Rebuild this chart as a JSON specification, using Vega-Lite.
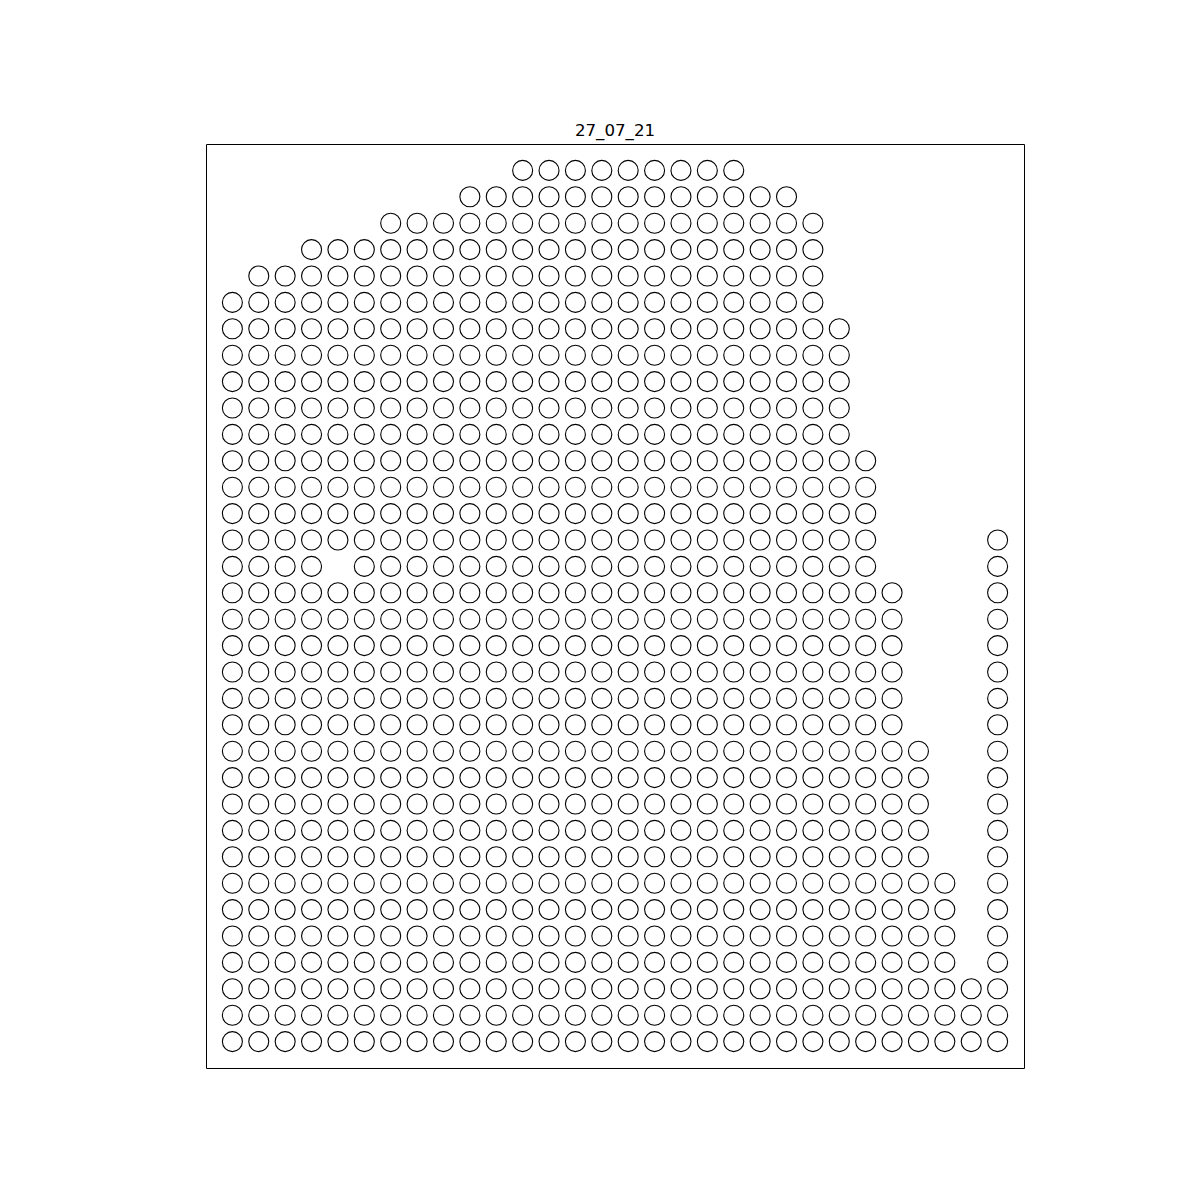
{
"$schema": "https://vega.github.io/schema/vega-lite/v6.json",
"width": 818,
"height": 924,
"autosize": {"type": "none"},
"padding": {"left": 206, "top": 144, "right": 176, "bottom": 132},
"background": "white",
"config": {"view": {"stroke": "black", "strokeWidth": 1, "fill": "white"}},
"title": {"text": "27_07_21", "font": "DejaVu Sans", "fontSize": 16.67, "fontWeight": "normal", "color": "black", "anchor": "middle", "baseline": "alphabetic", "offset": -9},
"data": {"values": [
{"col":11,"row":0},{"col":12,"row":0},{"col":13,"row":0},{"col":14,"row":0},{"col":15,"row":0},{"col":16,"row":0},{"col":17,"row":0},{"col":18,"row":0},{"col":19,"row":0},
{"col":9,"row":1},{"col":10,"row":1},{"col":11,"row":1},{"col":12,"row":1},{"col":13,"row":1},{"col":14,"row":1},{"col":15,"row":1},{"col":16,"row":1},{"col":17,"row":1},{"col":18,"row":1},{"col":19,"row":1},{"col":20,"row":1},{"col":21,"row":1},
{"col":6,"row":2},{"col":7,"row":2},{"col":8,"row":2},{"col":9,"row":2},{"col":10,"row":2},{"col":11,"row":2},{"col":12,"row":2},{"col":13,"row":2},{"col":14,"row":2},{"col":15,"row":2},{"col":16,"row":2},{"col":17,"row":2},{"col":18,"row":2},{"col":19,"row":2},{"col":20,"row":2},{"col":21,"row":2},{"col":22,"row":2},
{"col":3,"row":3},{"col":4,"row":3},{"col":5,"row":3},{"col":6,"row":3},{"col":7,"row":3},{"col":8,"row":3},{"col":9,"row":3},{"col":10,"row":3},{"col":11,"row":3},{"col":12,"row":3},{"col":13,"row":3},{"col":14,"row":3},{"col":15,"row":3},{"col":16,"row":3},{"col":17,"row":3},{"col":18,"row":3},{"col":19,"row":3},{"col":20,"row":3},{"col":21,"row":3},{"col":22,"row":3},
{"col":1,"row":4},{"col":2,"row":4},{"col":3,"row":4},{"col":4,"row":4},{"col":5,"row":4},{"col":6,"row":4},{"col":7,"row":4},{"col":8,"row":4},{"col":9,"row":4},{"col":10,"row":4},{"col":11,"row":4},{"col":12,"row":4},{"col":13,"row":4},{"col":14,"row":4},{"col":15,"row":4},{"col":16,"row":4},{"col":17,"row":4},{"col":18,"row":4},{"col":19,"row":4},{"col":20,"row":4},{"col":21,"row":4},{"col":22,"row":4},
{"col":0,"row":5},{"col":1,"row":5},{"col":2,"row":5},{"col":3,"row":5},{"col":4,"row":5},{"col":5,"row":5},{"col":6,"row":5},{"col":7,"row":5},{"col":8,"row":5},{"col":9,"row":5},{"col":10,"row":5},{"col":11,"row":5},{"col":12,"row":5},{"col":13,"row":5},{"col":14,"row":5},{"col":15,"row":5},{"col":16,"row":5},{"col":17,"row":5},{"col":18,"row":5},{"col":19,"row":5},{"col":20,"row":5},{"col":21,"row":5},{"col":22,"row":5},
{"col":0,"row":6},{"col":1,"row":6},{"col":2,"row":6},{"col":3,"row":6},{"col":4,"row":6},{"col":5,"row":6},{"col":6,"row":6},{"col":7,"row":6},{"col":8,"row":6},{"col":9,"row":6},{"col":10,"row":6},{"col":11,"row":6},{"col":12,"row":6},{"col":13,"row":6},{"col":14,"row":6},{"col":15,"row":6},{"col":16,"row":6},{"col":17,"row":6},{"col":18,"row":6},{"col":19,"row":6},{"col":20,"row":6},{"col":21,"row":6},{"col":22,"row":6},{"col":23,"row":6},
{"col":0,"row":7},{"col":1,"row":7},{"col":2,"row":7},{"col":3,"row":7},{"col":4,"row":7},{"col":5,"row":7},{"col":6,"row":7},{"col":7,"row":7},{"col":8,"row":7},{"col":9,"row":7},{"col":10,"row":7},{"col":11,"row":7},{"col":12,"row":7},{"col":13,"row":7},{"col":14,"row":7},{"col":15,"row":7},{"col":16,"row":7},{"col":17,"row":7},{"col":18,"row":7},{"col":19,"row":7},{"col":20,"row":7},{"col":21,"row":7},{"col":22,"row":7},{"col":23,"row":7},
{"col":0,"row":8},{"col":1,"row":8},{"col":2,"row":8},{"col":3,"row":8},{"col":4,"row":8},{"col":5,"row":8},{"col":6,"row":8},{"col":7,"row":8},{"col":8,"row":8},{"col":9,"row":8},{"col":10,"row":8},{"col":11,"row":8},{"col":12,"row":8},{"col":13,"row":8},{"col":14,"row":8},{"col":15,"row":8},{"col":16,"row":8},{"col":17,"row":8},{"col":18,"row":8},{"col":19,"row":8},{"col":20,"row":8},{"col":21,"row":8},{"col":22,"row":8},{"col":23,"row":8},
{"col":0,"row":9},{"col":1,"row":9},{"col":2,"row":9},{"col":3,"row":9},{"col":4,"row":9},{"col":5,"row":9},{"col":6,"row":9},{"col":7,"row":9},{"col":8,"row":9},{"col":9,"row":9},{"col":10,"row":9},{"col":11,"row":9},{"col":12,"row":9},{"col":13,"row":9},{"col":14,"row":9},{"col":15,"row":9},{"col":16,"row":9},{"col":17,"row":9},{"col":18,"row":9},{"col":19,"row":9},{"col":20,"row":9},{"col":21,"row":9},{"col":22,"row":9},{"col":23,"row":9},
{"col":0,"row":10},{"col":1,"row":10},{"col":2,"row":10},{"col":3,"row":10},{"col":4,"row":10},{"col":5,"row":10},{"col":6,"row":10},{"col":7,"row":10},{"col":8,"row":10},{"col":9,"row":10},{"col":10,"row":10},{"col":11,"row":10},{"col":12,"row":10},{"col":13,"row":10},{"col":14,"row":10},{"col":15,"row":10},{"col":16,"row":10},{"col":17,"row":10},{"col":18,"row":10},{"col":19,"row":10},{"col":20,"row":10},{"col":21,"row":10},{"col":22,"row":10},{"col":23,"row":10},
{"col":0,"row":11},{"col":1,"row":11},{"col":2,"row":11},{"col":3,"row":11},{"col":4,"row":11},{"col":5,"row":11},{"col":6,"row":11},{"col":7,"row":11},{"col":8,"row":11},{"col":9,"row":11},{"col":10,"row":11},{"col":11,"row":11},{"col":12,"row":11},{"col":13,"row":11},{"col":14,"row":11},{"col":15,"row":11},{"col":16,"row":11},{"col":17,"row":11},{"col":18,"row":11},{"col":19,"row":11},{"col":20,"row":11},{"col":21,"row":11},{"col":22,"row":11},{"col":23,"row":11},{"col":24,"row":11},
{"col":0,"row":12},{"col":1,"row":12},{"col":2,"row":12},{"col":3,"row":12},{"col":4,"row":12},{"col":5,"row":12},{"col":6,"row":12},{"col":7,"row":12},{"col":8,"row":12},{"col":9,"row":12},{"col":10,"row":12},{"col":11,"row":12},{"col":12,"row":12},{"col":13,"row":12},{"col":14,"row":12},{"col":15,"row":12},{"col":16,"row":12},{"col":17,"row":12},{"col":18,"row":12},{"col":19,"row":12},{"col":20,"row":12},{"col":21,"row":12},{"col":22,"row":12},{"col":23,"row":12},{"col":24,"row":12},
{"col":0,"row":13},{"col":1,"row":13},{"col":2,"row":13},{"col":3,"row":13},{"col":4,"row":13},{"col":5,"row":13},{"col":6,"row":13},{"col":7,"row":13},{"col":8,"row":13},{"col":9,"row":13},{"col":10,"row":13},{"col":11,"row":13},{"col":12,"row":13},{"col":13,"row":13},{"col":14,"row":13},{"col":15,"row":13},{"col":16,"row":13},{"col":17,"row":13},{"col":18,"row":13},{"col":19,"row":13},{"col":20,"row":13},{"col":21,"row":13},{"col":22,"row":13},{"col":23,"row":13},{"col":24,"row":13},
{"col":0,"row":14},{"col":1,"row":14},{"col":2,"row":14},{"col":3,"row":14},{"col":4,"row":14},{"col":5,"row":14},{"col":6,"row":14},{"col":7,"row":14},{"col":8,"row":14},{"col":9,"row":14},{"col":10,"row":14},{"col":11,"row":14},{"col":12,"row":14},{"col":13,"row":14},{"col":14,"row":14},{"col":15,"row":14},{"col":16,"row":14},{"col":17,"row":14},{"col":18,"row":14},{"col":19,"row":14},{"col":20,"row":14},{"col":21,"row":14},{"col":22,"row":14},{"col":23,"row":14},{"col":24,"row":14},{"col":29,"row":14},
{"col":0,"row":15},{"col":1,"row":15},{"col":2,"row":15},{"col":3,"row":15},{"col":5,"row":15},{"col":6,"row":15},{"col":7,"row":15},{"col":8,"row":15},{"col":9,"row":15},{"col":10,"row":15},{"col":11,"row":15},{"col":12,"row":15},{"col":13,"row":15},{"col":14,"row":15},{"col":15,"row":15},{"col":16,"row":15},{"col":17,"row":15},{"col":18,"row":15},{"col":19,"row":15},{"col":20,"row":15},{"col":21,"row":15},{"col":22,"row":15},{"col":23,"row":15},{"col":24,"row":15},{"col":29,"row":15},
{"col":0,"row":16},{"col":1,"row":16},{"col":2,"row":16},{"col":3,"row":16},{"col":4,"row":16},{"col":5,"row":16},{"col":6,"row":16},{"col":7,"row":16},{"col":8,"row":16},{"col":9,"row":16},{"col":10,"row":16},{"col":11,"row":16},{"col":12,"row":16},{"col":13,"row":16},{"col":14,"row":16},{"col":15,"row":16},{"col":16,"row":16},{"col":17,"row":16},{"col":18,"row":16},{"col":19,"row":16},{"col":20,"row":16},{"col":21,"row":16},{"col":22,"row":16},{"col":23,"row":16},{"col":24,"row":16},{"col":25,"row":16},{"col":29,"row":16},
{"col":0,"row":17},{"col":1,"row":17},{"col":2,"row":17},{"col":3,"row":17},{"col":4,"row":17},{"col":5,"row":17},{"col":6,"row":17},{"col":7,"row":17},{"col":8,"row":17},{"col":9,"row":17},{"col":10,"row":17},{"col":11,"row":17},{"col":12,"row":17},{"col":13,"row":17},{"col":14,"row":17},{"col":15,"row":17},{"col":16,"row":17},{"col":17,"row":17},{"col":18,"row":17},{"col":19,"row":17},{"col":20,"row":17},{"col":21,"row":17},{"col":22,"row":17},{"col":23,"row":17},{"col":24,"row":17},{"col":25,"row":17},{"col":29,"row":17},
{"col":0,"row":18},{"col":1,"row":18},{"col":2,"row":18},{"col":3,"row":18},{"col":4,"row":18},{"col":5,"row":18},{"col":6,"row":18},{"col":7,"row":18},{"col":8,"row":18},{"col":9,"row":18},{"col":10,"row":18},{"col":11,"row":18},{"col":12,"row":18},{"col":13,"row":18},{"col":14,"row":18},{"col":15,"row":18},{"col":16,"row":18},{"col":17,"row":18},{"col":18,"row":18},{"col":19,"row":18},{"col":20,"row":18},{"col":21,"row":18},{"col":22,"row":18},{"col":23,"row":18},{"col":24,"row":18},{"col":25,"row":18},{"col":29,"row":18},
{"col":0,"row":19},{"col":1,"row":19},{"col":2,"row":19},{"col":3,"row":19},{"col":4,"row":19},{"col":5,"row":19},{"col":6,"row":19},{"col":7,"row":19},{"col":8,"row":19},{"col":9,"row":19},{"col":10,"row":19},{"col":11,"row":19},{"col":12,"row":19},{"col":13,"row":19},{"col":14,"row":19},{"col":15,"row":19},{"col":16,"row":19},{"col":17,"row":19},{"col":18,"row":19},{"col":19,"row":19},{"col":20,"row":19},{"col":21,"row":19},{"col":22,"row":19},{"col":23,"row":19},{"col":24,"row":19},{"col":25,"row":19},{"col":29,"row":19},
{"col":0,"row":20},{"col":1,"row":20},{"col":2,"row":20},{"col":3,"row":20},{"col":4,"row":20},{"col":5,"row":20},{"col":6,"row":20},{"col":7,"row":20},{"col":8,"row":20},{"col":9,"row":20},{"col":10,"row":20},{"col":11,"row":20},{"col":12,"row":20},{"col":13,"row":20},{"col":14,"row":20},{"col":15,"row":20},{"col":16,"row":20},{"col":17,"row":20},{"col":18,"row":20},{"col":19,"row":20},{"col":20,"row":20},{"col":21,"row":20},{"col":22,"row":20},{"col":23,"row":20},{"col":24,"row":20},{"col":25,"row":20},{"col":29,"row":20},
{"col":0,"row":21},{"col":1,"row":21},{"col":2,"row":21},{"col":3,"row":21},{"col":4,"row":21},{"col":5,"row":21},{"col":6,"row":21},{"col":7,"row":21},{"col":8,"row":21},{"col":9,"row":21},{"col":10,"row":21},{"col":11,"row":21},{"col":12,"row":21},{"col":13,"row":21},{"col":14,"row":21},{"col":15,"row":21},{"col":16,"row":21},{"col":17,"row":21},{"col":18,"row":21},{"col":19,"row":21},{"col":20,"row":21},{"col":21,"row":21},{"col":22,"row":21},{"col":23,"row":21},{"col":24,"row":21},{"col":25,"row":21},{"col":29,"row":21},
{"col":0,"row":22},{"col":1,"row":22},{"col":2,"row":22},{"col":3,"row":22},{"col":4,"row":22},{"col":5,"row":22},{"col":6,"row":22},{"col":7,"row":22},{"col":8,"row":22},{"col":9,"row":22},{"col":10,"row":22},{"col":11,"row":22},{"col":12,"row":22},{"col":13,"row":22},{"col":14,"row":22},{"col":15,"row":22},{"col":16,"row":22},{"col":17,"row":22},{"col":18,"row":22},{"col":19,"row":22},{"col":20,"row":22},{"col":21,"row":22},{"col":22,"row":22},{"col":23,"row":22},{"col":24,"row":22},{"col":25,"row":22},{"col":26,"row":22},{"col":29,"row":22},
{"col":0,"row":23},{"col":1,"row":23},{"col":2,"row":23},{"col":3,"row":23},{"col":4,"row":23},{"col":5,"row":23},{"col":6,"row":23},{"col":7,"row":23},{"col":8,"row":23},{"col":9,"row":23},{"col":10,"row":23},{"col":11,"row":23},{"col":12,"row":23},{"col":13,"row":23},{"col":14,"row":23},{"col":15,"row":23},{"col":16,"row":23},{"col":17,"row":23},{"col":18,"row":23},{"col":19,"row":23},{"col":20,"row":23},{"col":21,"row":23},{"col":22,"row":23},{"col":23,"row":23},{"col":24,"row":23},{"col":25,"row":23},{"col":26,"row":23},{"col":29,"row":23},
{"col":0,"row":24},{"col":1,"row":24},{"col":2,"row":24},{"col":3,"row":24},{"col":4,"row":24},{"col":5,"row":24},{"col":6,"row":24},{"col":7,"row":24},{"col":8,"row":24},{"col":9,"row":24},{"col":10,"row":24},{"col":11,"row":24},{"col":12,"row":24},{"col":13,"row":24},{"col":14,"row":24},{"col":15,"row":24},{"col":16,"row":24},{"col":17,"row":24},{"col":18,"row":24},{"col":19,"row":24},{"col":20,"row":24},{"col":21,"row":24},{"col":22,"row":24},{"col":23,"row":24},{"col":24,"row":24},{"col":25,"row":24},{"col":26,"row":24},{"col":29,"row":24},
{"col":0,"row":25},{"col":1,"row":25},{"col":2,"row":25},{"col":3,"row":25},{"col":4,"row":25},{"col":5,"row":25},{"col":6,"row":25},{"col":7,"row":25},{"col":8,"row":25},{"col":9,"row":25},{"col":10,"row":25},{"col":11,"row":25},{"col":12,"row":25},{"col":13,"row":25},{"col":14,"row":25},{"col":15,"row":25},{"col":16,"row":25},{"col":17,"row":25},{"col":18,"row":25},{"col":19,"row":25},{"col":20,"row":25},{"col":21,"row":25},{"col":22,"row":25},{"col":23,"row":25},{"col":24,"row":25},{"col":25,"row":25},{"col":26,"row":25},{"col":29,"row":25},
{"col":0,"row":26},{"col":1,"row":26},{"col":2,"row":26},{"col":3,"row":26},{"col":4,"row":26},{"col":5,"row":26},{"col":6,"row":26},{"col":7,"row":26},{"col":8,"row":26},{"col":9,"row":26},{"col":10,"row":26},{"col":11,"row":26},{"col":12,"row":26},{"col":13,"row":26},{"col":14,"row":26},{"col":15,"row":26},{"col":16,"row":26},{"col":17,"row":26},{"col":18,"row":26},{"col":19,"row":26},{"col":20,"row":26},{"col":21,"row":26},{"col":22,"row":26},{"col":23,"row":26},{"col":24,"row":26},{"col":25,"row":26},{"col":26,"row":26},{"col":29,"row":26},
{"col":0,"row":27},{"col":1,"row":27},{"col":2,"row":27},{"col":3,"row":27},{"col":4,"row":27},{"col":5,"row":27},{"col":6,"row":27},{"col":7,"row":27},{"col":8,"row":27},{"col":9,"row":27},{"col":10,"row":27},{"col":11,"row":27},{"col":12,"row":27},{"col":13,"row":27},{"col":14,"row":27},{"col":15,"row":27},{"col":16,"row":27},{"col":17,"row":27},{"col":18,"row":27},{"col":19,"row":27},{"col":20,"row":27},{"col":21,"row":27},{"col":22,"row":27},{"col":23,"row":27},{"col":24,"row":27},{"col":25,"row":27},{"col":26,"row":27},{"col":27,"row":27},{"col":29,"row":27},
{"col":0,"row":28},{"col":1,"row":28},{"col":2,"row":28},{"col":3,"row":28},{"col":4,"row":28},{"col":5,"row":28},{"col":6,"row":28},{"col":7,"row":28},{"col":8,"row":28},{"col":9,"row":28},{"col":10,"row":28},{"col":11,"row":28},{"col":12,"row":28},{"col":13,"row":28},{"col":14,"row":28},{"col":15,"row":28},{"col":16,"row":28},{"col":17,"row":28},{"col":18,"row":28},{"col":19,"row":28},{"col":20,"row":28},{"col":21,"row":28},{"col":22,"row":28},{"col":23,"row":28},{"col":24,"row":28},{"col":25,"row":28},{"col":26,"row":28},{"col":27,"row":28},{"col":29,"row":28},
{"col":0,"row":29},{"col":1,"row":29},{"col":2,"row":29},{"col":3,"row":29},{"col":4,"row":29},{"col":5,"row":29},{"col":6,"row":29},{"col":7,"row":29},{"col":8,"row":29},{"col":9,"row":29},{"col":10,"row":29},{"col":11,"row":29},{"col":12,"row":29},{"col":13,"row":29},{"col":14,"row":29},{"col":15,"row":29},{"col":16,"row":29},{"col":17,"row":29},{"col":18,"row":29},{"col":19,"row":29},{"col":20,"row":29},{"col":21,"row":29},{"col":22,"row":29},{"col":23,"row":29},{"col":24,"row":29},{"col":25,"row":29},{"col":26,"row":29},{"col":27,"row":29},{"col":29,"row":29},
{"col":0,"row":30},{"col":1,"row":30},{"col":2,"row":30},{"col":3,"row":30},{"col":4,"row":30},{"col":5,"row":30},{"col":6,"row":30},{"col":7,"row":30},{"col":8,"row":30},{"col":9,"row":30},{"col":10,"row":30},{"col":11,"row":30},{"col":12,"row":30},{"col":13,"row":30},{"col":14,"row":30},{"col":15,"row":30},{"col":16,"row":30},{"col":17,"row":30},{"col":18,"row":30},{"col":19,"row":30},{"col":20,"row":30},{"col":21,"row":30},{"col":22,"row":30},{"col":23,"row":30},{"col":24,"row":30},{"col":25,"row":30},{"col":26,"row":30},{"col":27,"row":30},{"col":29,"row":30},
{"col":0,"row":31},{"col":1,"row":31},{"col":2,"row":31},{"col":3,"row":31},{"col":4,"row":31},{"col":5,"row":31},{"col":6,"row":31},{"col":7,"row":31},{"col":8,"row":31},{"col":9,"row":31},{"col":10,"row":31},{"col":11,"row":31},{"col":12,"row":31},{"col":13,"row":31},{"col":14,"row":31},{"col":15,"row":31},{"col":16,"row":31},{"col":17,"row":31},{"col":18,"row":31},{"col":19,"row":31},{"col":20,"row":31},{"col":21,"row":31},{"col":22,"row":31},{"col":23,"row":31},{"col":24,"row":31},{"col":25,"row":31},{"col":26,"row":31},{"col":27,"row":31},{"col":28,"row":31},{"col":29,"row":31},
{"col":0,"row":32},{"col":1,"row":32},{"col":2,"row":32},{"col":3,"row":32},{"col":4,"row":32},{"col":5,"row":32},{"col":6,"row":32},{"col":7,"row":32},{"col":8,"row":32},{"col":9,"row":32},{"col":10,"row":32},{"col":11,"row":32},{"col":12,"row":32},{"col":13,"row":32},{"col":14,"row":32},{"col":15,"row":32},{"col":16,"row":32},{"col":17,"row":32},{"col":18,"row":32},{"col":19,"row":32},{"col":20,"row":32},{"col":21,"row":32},{"col":22,"row":32},{"col":23,"row":32},{"col":24,"row":32},{"col":25,"row":32},{"col":26,"row":32},{"col":27,"row":32},{"col":28,"row":32},{"col":29,"row":32},
{"col":0,"row":33},{"col":1,"row":33},{"col":2,"row":33},{"col":3,"row":33},{"col":4,"row":33},{"col":5,"row":33},{"col":6,"row":33},{"col":7,"row":33},{"col":8,"row":33},{"col":9,"row":33},{"col":10,"row":33},{"col":11,"row":33},{"col":12,"row":33},{"col":13,"row":33},{"col":14,"row":33},{"col":15,"row":33},{"col":16,"row":33},{"col":17,"row":33},{"col":18,"row":33},{"col":19,"row":33},{"col":20,"row":33},{"col":21,"row":33},{"col":22,"row":33},{"col":23,"row":33},{"col":24,"row":33},{"col":25,"row":33},{"col":26,"row":33},{"col":27,"row":33},{"col":28,"row":33},{"col":29,"row":33}
]},
"mark": {"type": "point", "shape": "circle", "filled": false, "stroke": "black", "strokeWidth": 1.1, "opacity": 1, "size": 400},
"encoding": {
"x": {"field": "col", "type": "quantitative", "scale": {"domain": [-1, 30], "nice": false, "zero": false}, "axis": null},
"y": {"field": "row", "type": "quantitative", "scale": {"domain": [-1, 34], "nice": false, "zero": false, "reverse": true}, "axis": null}
}
}
